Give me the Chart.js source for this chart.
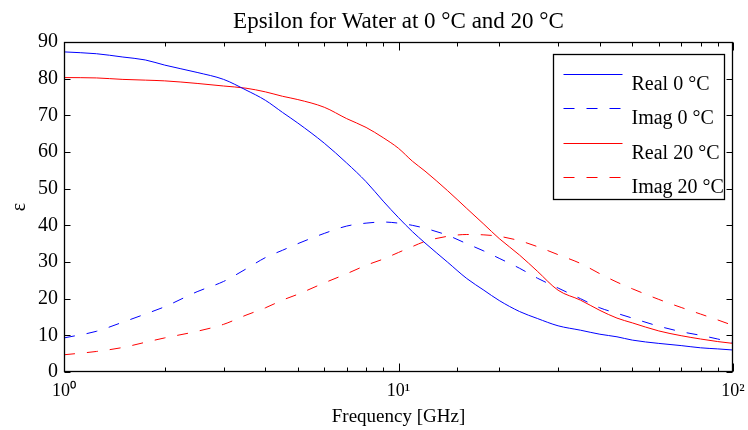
<!DOCTYPE html>
<html>
<head>
<meta charset="utf-8">
<script src="https://cdn.jsdelivr.net/npm/chart.js@4.4.1/dist/chart.umd.min.js"></script>
<style>
  html, body { margin: 0; padding: 0; background: #fff; }
  #wrap { width: 748px; height: 430px; }
</style>
</head>
<body>
<div id="wrap"><canvas id="epsChart" width="748" height="430"></canvas></div>
<script>
// ---- data ----
var freqGHz = [1, 1.25, 1.5, 1.75, 2, 2.5, 3, 3.5, 4, 4.5, 5, 6, 7, 8, 9, 10,
               11, 12, 14, 16, 18, 20, 23, 26, 30, 35, 40, 45, 50, 60, 70, 80, 90, 100];
var real0C  = [87.3, 86.8, 85.9, 85.1, 83.7, 81.7, 79.8, 76.9, 74.1, 70.8, 67.9, 62.4, 57.0, 51.9, 46.6, 42.1,
               38.3, 35.2, 30.0, 25.5, 22.3, 19.5, 16.5, 14.6, 12.6, 11.4, 10.3, 9.6, 8.7, 7.8, 7.2, 6.6, 6.3, 6.0];
var imag0C  = [9.3, 11.1, 13.6, 15.8, 17.8, 21.9, 24.7, 28.1, 31.2, 33.2, 35.0, 37.8, 39.8, 40.6, 40.9, 40.6,
               40.0, 39.2, 37.3, 35.0, 33.0, 31.0, 28.3, 25.6, 22.9, 20.0, 17.5, 16.0, 14.7, 12.5, 11.0, 10.0, 9.0, 8.0];
var real20C = [80.3, 80.2, 79.8, 79.6, 79.4, 78.7, 78.0, 77.4, 76.4, 75.2, 74.3, 72.2, 69.1, 66.7, 63.9, 61.0,
               57.5, 54.8, 49.5, 44.6, 40.3, 36.4, 31.9, 27.5, 22.3, 19.6, 16.8, 14.7, 13.4, 11.2, 9.9, 9.0, 8.3, 7.8];
var imag20C = [4.7, 5.6, 6.7, 8.1, 9.3, 11.1, 13.0, 15.5, 17.5, 19.6, 21.2, 24.3, 26.8, 29.1, 30.8, 32.6,
               34.2, 35.6, 37.0, 37.5, 37.4, 37.0, 35.8, 34.2, 32.0, 29.6, 26.8, 24.5, 22.7, 19.8, 17.6, 15.8, 14.2, 12.7];

var seriesLabels = ['Real 0 °C', 'Imag 0 °C', 'Real 20 °C', 'Imag 20 °C'];
var yTicks = [0, 10, 20, 30, 40, 50, 60, 70, 80, 90];

var serif = "'Liberation Serif', 'Times New Roman', serif";

function pts(ys) {
  return freqGHz.map(function (f, i) { return { x: f, y: ys[i] }; });
}

function line(label, ys, color, dashed) {
  return {
    label: label,
    data: pts(ys),
    borderColor: color,
    backgroundColor: color,
    borderWidth: 1,
    borderDash: dashed ? [11, 12] : [],
    pointRadius: 0,
    cubicInterpolationMode: 'monotone',
    fill: false
  };
}

// box, inward ticks and the legend, matlab style
const matlabFrame = {
  id: 'matlabFrame',
  afterDatasetsDraw(chart) {
    const ctx = chart.ctx;
    const a = chart.chartArea;
    const x = chart.scales.x, y = chart.scales.y;
    const L = Math.round(a.left) + 0.5, R = Math.round(a.right) - 0.5;
    const T = Math.round(a.top) + 0.5, B = Math.round(a.bottom) - 0.5;
    ctx.save();
    ctx.strokeStyle = '#000';
    ctx.lineWidth = 1;
    ctx.setLineDash([]);
    ctx.beginPath();
    x.ticks.forEach(function (t) {
      const px = Math.round(x.getPixelForValue(t.value)) + 0.5;
      const major = Math.abs(Math.log10(t.value) - Math.round(Math.log10(t.value))) < 1e-9;
      const len = major ? 8 : 4;
      ctx.moveTo(px, B); ctx.lineTo(px, B - len);
      ctx.moveTo(px, T); ctx.lineTo(px, T + len);
    });
    y.ticks.forEach(function (t) {
      const py = Math.round(y.getPixelForValue(t.value)) + 0.5;
      ctx.moveTo(L, py); ctx.lineTo(L + 6, py);
      ctx.moveTo(R, py); ctx.lineTo(R - 6, py);
    });
    ctx.stroke();
    ctx.lineWidth = 1.3;
    ctx.strokeRect(L, T, R - L, B - T);

    // legend
    const bw = 171, bh = 145;
    const bx = Math.round(a.right - 9 - bw) + 0.5, by = Math.round(a.top + 12) + 0.5;
    ctx.fillStyle = '#fff';
    ctx.fillRect(bx, by, bw, bh);
    ctx.lineWidth = 1.3;
    ctx.strokeRect(bx, by, bw, bh);
    ctx.font = '20px ' + serif;
    ctx.textBaseline = 'alphabetic';
    ctx.textAlign = 'left';
    chart.data.datasets.forEach(function (ds, i) {
      const ly = Math.round(by + 19 + i * 34.5) + 0.5;
      ctx.strokeStyle = ds.borderColor;
      ctx.lineWidth = 1;
      ctx.setLineDash(ds.borderDash);
      ctx.beginPath();
      ctx.moveTo(bx + 10, ly);
      ctx.lineTo(bx + 69, ly);
      ctx.stroke();
      ctx.setLineDash([]);
      ctx.fillStyle = '#000';
      ctx.fillText(ds.label, bx + 78, ly + 15);
    });
    ctx.restore();
  }
};

const config = {
  type: 'line',
  data: {
    datasets: [
      line(seriesLabels[0], real0C, '#0000ff', false),
      line(seriesLabels[1], imag0C, '#0000ff', true),
      line(seriesLabels[2], real20C, '#ff0000', false),
      line(seriesLabels[3], imag20C, '#ff0000', true)
    ]
  },
  options: {
    responsive: false,
    animation: false,
    events: [],
    layout: { padding: { left: 0, right: 15, top: 0, bottom: 0 } },
    scales: {
      x: {
        type: 'logarithmic',
        min: 1,
        max: 100,
        grid: { display: false, drawTicks: false },
        border: { display: false },
        afterFit: function (s) { s.height = 58; s.paddingLeft = 0; s.paddingRight = 0; },
        ticks: {
          autoSkip: false,
          maxRotation: 0,
          padding: 8,
          color: '#000',
          font: { family: serif, size: 18 },
          callback: function (v) {
            if (v === 1) return '10⁰';
            if (v === 10) return '10¹';
            if (v === 100) return '10²';
            return '';
          }
        },
        title: {
          display: true,
          text: 'Frequency [GHz]',
          color: '#000',
          font: { family: serif, size: 19 },
          padding: { top: 0, bottom: 2 }
        }
      },
      y: {
        min: 0,
        max: 90,
        grid: { display: false, drawTicks: false },
        border: { display: false },
        afterFit: function (s) { s.width = 64; s.paddingTop = 0; s.paddingBottom = 0; },
        afterBuildTicks: function (s) { s.ticks = yTicks.map(function (v) { return { value: v }; }); },
        ticks: {
          padding: 6,
          color: '#000',
          font: { family: serif, size: 20 }
        },
        title: {
          display: true,
          text: 'ε',
          color: '#000',
          font: { family: serif, size: 20 },
          padding: { top: 8, bottom: 0 }
        }
      }
    },
    plugins: {
      legend: { display: false },
      tooltip: { enabled: false },
      title: {
        display: true,
        fullSize: false,
        text: 'Epsilon for Water at 0 °C and 20 °C',
        color: '#000',
        font: { family: serif, size: 23, weight: 'normal' },
        padding: { top: 8, bottom: 6.4 }
      }
    }
  },
  plugins: [matlabFrame]
};

const epsChart = new Chart(document.getElementById('epsChart').getContext('2d'), config);
</script>
</body>
</html>
